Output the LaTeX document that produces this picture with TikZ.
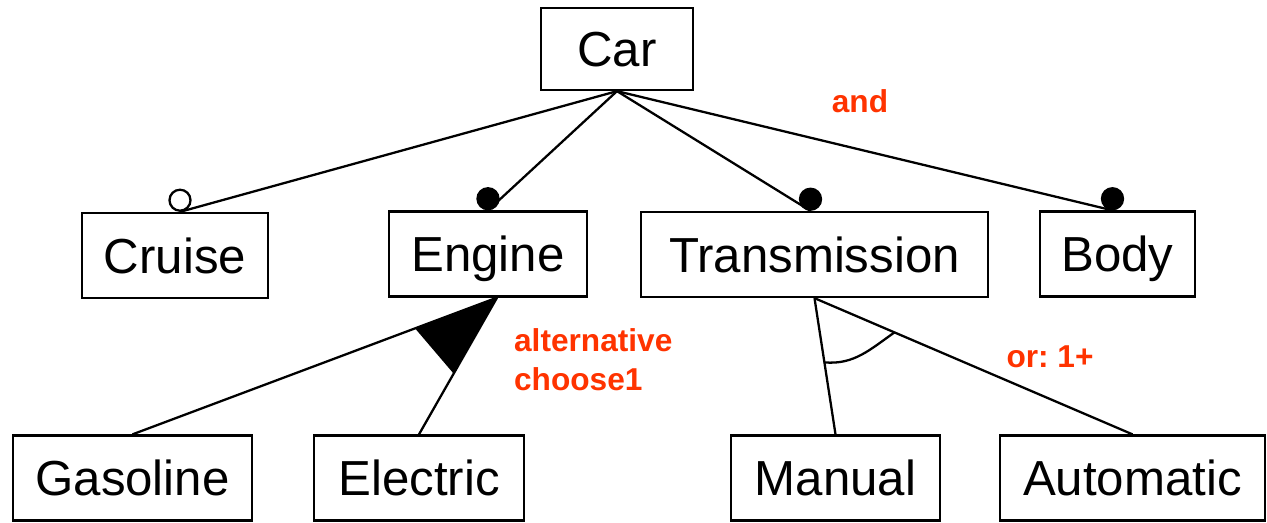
\documentclass[tikz,border=0pt]{standalone}
\usepackage{fontspec}
\setmainfont{Liberation Sans}
\usetikzlibrary{positioning,calc}
\definecolor{labelred}{HTML}{FF3300}
\tikzset{
	feature diagram/.style={
		line width=1.3pt,
		font=\fontsize{28}{34}\selectfont
	},
	feature/.style={
		rectangle,
		draw,
		inner sep=0pt,
		minimum height=1.7cm,
		text height=20pt,text depth=0pt % same baseline in every box
	},
	mandatory dot/.style={
		circle,
		draw,
		fill=black,
		inner sep=0pt,
		minimum size=0.42cm,
		anchor=south
	},
	optional dot/.style={
		mandatory dot,
		fill=white
	},
	group label/.style={
		text=labelred,
		align=left,
		inner sep=0pt,
		font=\fontsize{18}{22}\selectfont\bfseries\frenchspacing
	}
}

\begin{document}
\begin{tikzpicture}[feature diagram]
	\useasboundingbox (0,0) rectangle (25.34,10.44);
	% features
	\node[feature,minimum width=3.04cm,minimum height=1.64cm] (car) at (12.34,9.46) {Car};
	\node[feature,minimum width=3.72cm] (cruise) at (3.5,5.33) {Cruise};
	\node[feature,minimum width=3.96cm] (engine) at (9.76,5.36) {Engine};
	\node[feature,minimum width=6.94cm] (transmission) at (16.29,5.35) {Transmission};
	\node[feature,minimum width=3.10cm] (body) at (22.35,5.36) {Body};
	\node[feature,minimum width=4.78cm] (gasoline) at (2.65,0.88) {Gasoline};
	\node[feature,minimum width=4.2cm] (electric) at (8.38,0.88) {Electric};
	\node[feature,minimum width=4.18cm] (manual) at (16.71,0.88) {Manual};
	\node[feature,minimum width=5.3cm] (automatic) at (22.65,0.88) {Automatic};
	% and
	\draw (car.south) -- ([xshift=0.1cm]cruise.north) node[optional dot] (cruise dot) {};
	\draw (car.south) -- (engine.north) node[mandatory dot] (engine dot) {};
	\draw (car.south) -- ([xshift=-0.08cm]transmission.north) node[mandatory dot] (transmission dot) {};
	\draw (car.south) -- ([xshift=-0.1cm]body.north) node[mandatory dot] (body dot) {};
	\node[group label] (and label) at (17.2,8.42) {and};
	% alternative
	\coordinate (engine apex) at ([xshift=0.18cm]engine.south);
	\draw (engine apex) -- (gasoline.north);
	\draw (engine apex) -- (electric.north);
	\fill (engine apex) -- ($(engine apex)!1.75cm!(gasoline.north)$)
		-- ($(engine apex)!1.75cm!(electric.north)$) -- cycle;
	\node[group label,anchor=west] (alternative label) at (10.26,3.24) {alternative\\choose1};
	% or
	\coordinate (transmission apex) at (transmission.south);
	\draw (transmission apex) -- (manual.north);
	\draw (transmission apex) -- (automatic.north);
	\draw ($(transmission apex)!1.3cm!(manual.north)$) to[out=-5,in=215]
		($(transmission apex)!1.74cm!(automatic.north)$);
	\node[group label] (or label) at (21.0,3.30) {or: 1+};
\end{tikzpicture}
\end{document}
